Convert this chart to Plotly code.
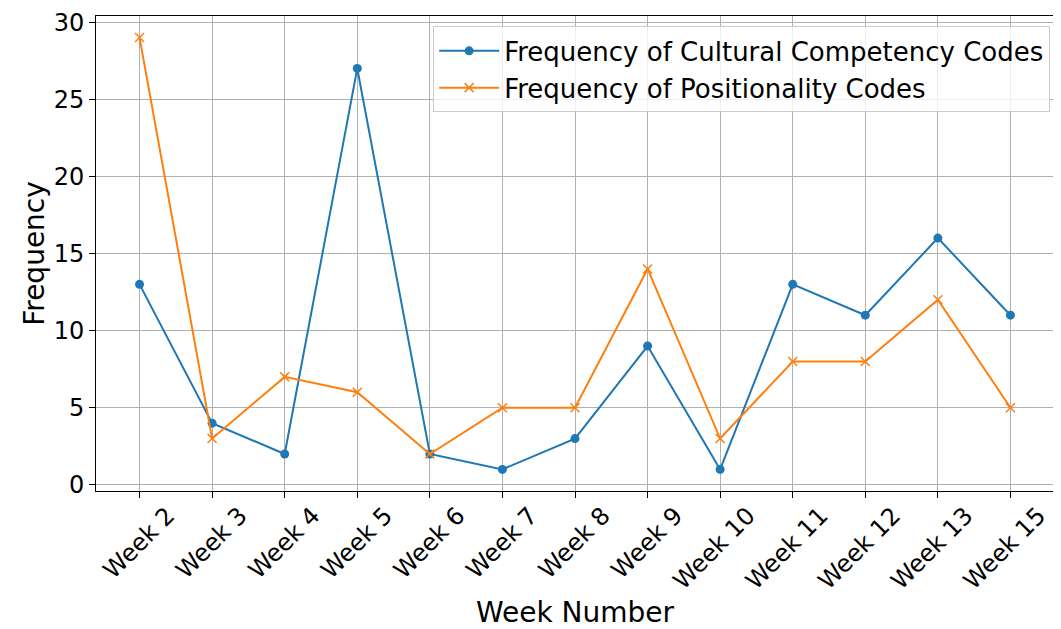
import plotly.graph_objects as go

weeks = ["Week 2", "Week 3", "Week 4", "Week 5", "Week 6", "Week 7", "Week 8",
         "Week 9", "Week 10", "Week 11", "Week 12", "Week 13", "Week 15"]
cultural = [13, 4, 2, 27, 2, 1, 3, 9, 1, 13, 11, 16, 11]
positionality = [29, 3, 7, 6, 2, 5, 5, 14, 3, 8, 8, 12, 5]

fig = go.Figure()
fig.add_trace(go.Scatter(
    x=weeks, y=cultural, mode="lines+markers",
    name="Frequency of Cultural Competency Codes",
    line=dict(color="#1f77b4", width=2),
    marker=dict(symbol="circle", size=9, color="#1f77b4"),
))
fig.add_trace(go.Scatter(
    x=weeks, y=positionality, mode="lines+markers",
    name="Frequency of Positionality Codes",
    line=dict(color="#ff7f0e", width=2),
    marker=dict(symbol="x-thin", size=9, color="#ff7f0e",
                line=dict(color="#ff7f0e", width=1.5)),
))

axis_common = dict(
    showline=True, linecolor="black", linewidth=1, mirror=True,
    ticks="outside", ticklen=6, tickcolor="black", tickwidth=1,
    showgrid=True, gridcolor="#b0b0b0", gridwidth=1, zeroline=False,
    automargin=False, ticklabeloverflow="allow",
    tickfont=dict(family="DejaVu Sans", size=24, color="black"),
)

fig.update_layout(
    width=1053, height=621,
    margin=dict(l=88, r=7, t=8, b=138),
    paper_bgcolor="white", plot_bgcolor="white",
    font=dict(family="DejaVu Sans", color="black"),
    showlegend=True,
    legend=dict(
        x=0.996, y=0.978, xanchor="right", yanchor="top",
        bgcolor="rgba(255,255,255,0.8)", bordercolor="#cccccc", borderwidth=1,
        font=dict(family="DejaVu Sans", size=26, color="black"),
        itemwidth=60, tracegroupgap=0,
    ),
    xaxis=dict(
        **axis_common, range=[-0.6, 12.6], tickangle=-45,
        ticklabelshift=28, ticklabelstandoff=-6,
        title=dict(text="Week Number", font=dict(size=28), standoff=16),
    ),
    yaxis=dict(
        **axis_common, range=[-0.4, 30.4], tickvals=[0, 5, 10, 15, 20, 25, 30],
        title=dict(text="Frequency", font=dict(size=28), standoff=0),
    ),
)

fig.write_html("out.html")
